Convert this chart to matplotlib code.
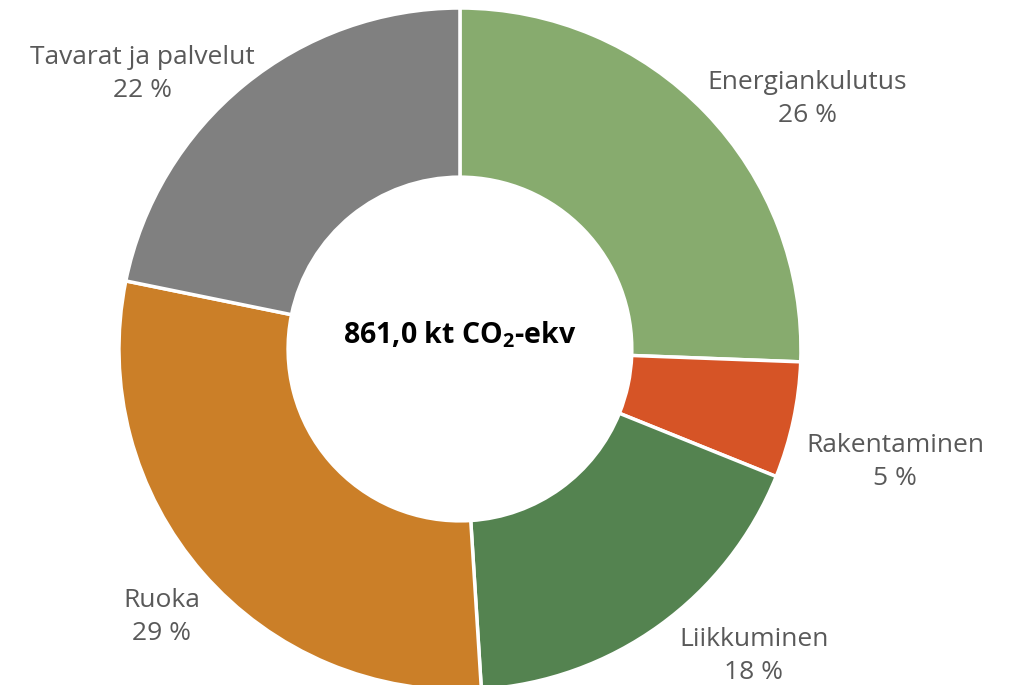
import matplotlib
matplotlib.use("Agg")
import matplotlib.pyplot as plt

categories = ["Energiankulutus", "Rakentaminen", "Liikkuminen", "Ruoka", "Tavarat ja palvelut"]
values = [25.6, 5.5, 17.9, 29.2, 21.8]
pct_labels = ["26 %", "5 %", "18 %", "29 %", "22 %"]
colors = ["#87AB6E", "#D65426", "#548350", "#CB7F28", "#808080"]
center_text = "861,0 kt CO$_2$-ekv"

# label anchor positions (data coords, radius = 1)
label_pos = [(1.018, 0.781), (1.276, -0.284), (0.862, -0.853), (-0.874, -0.738), (-0.930, 0.854)]

plt.rcParams["mathtext.fontset"] = "custom"
plt.rcParams["mathtext.rm"] = "Open Sans:bold"
plt.rcParams["mathtext.it"] = "Open Sans:bold"
plt.rcParams["mathtext.bf"] = "Open Sans:bold"

fig = plt.figure(figsize=(10.22, 6.85), dpi=100)
ax = fig.add_axes([0.1164, -0.0073, 0.6673, 0.9956])
ax.pie(values, colors=colors, startangle=90, counterclock=False, radius=1.0,
       wedgeprops=dict(width=0.496, edgecolor="white", linewidth=2.5))
ax.set_xlim(-1, 1)
ax.set_ylim(-1, 1)
ax.set_aspect("equal")
ax.axis("off")

for (x, y), name, pct in zip(label_pos, categories, pct_labels):
    ax.text(x, y, name, ha="center", va="center", fontsize=19, color="#595959",
            family="Open Sans")
    ax.text(x, y - 0.095, pct, ha="center", va="center", fontsize=19, color="#595959",
            family="Open Sans")

ax.text(0, 0.041, center_text, ha="center", va="center", fontsize=20.5,
        fontweight="bold", family="Open Sans", color="black")

fig.savefig("out.png", dpi=100)
